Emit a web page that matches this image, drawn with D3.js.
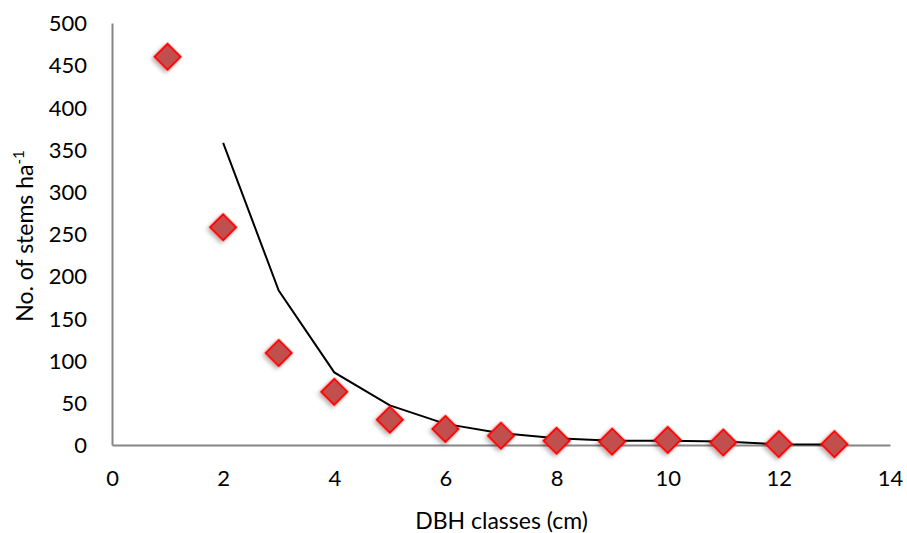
<!DOCTYPE html>
<html>
<head>
<meta charset="utf-8">
<script src="https://cdn.jsdelivr.net/npm/d3@7/dist/d3.min.js"></script>
<style>
  html, body { margin: 0; padding: 0; background: #fff; }
  svg { display: block; font-family: Lato, "Open Sans", sans-serif; }
</style>
</head>
<body>
<svg id="chart" width="907" height="533"></svg>
<script>
// DBH classes (cm)
const dbhClasses = [1, 2, 3, 4, 5, 6, 7, 8, 9, 10, 11, 12, 13];
// Observed stems per hectare
const observedStems = [460, 258, 109, 63, 30, 19, 11, 5, 4, 6, 3, 1, 1];
// Fitted curve (classes 2..13)
const fittedClasses = [2, 3, 4, 5, 6, 7, 8, 9, 10, 11, 12, 13];
const fittedStems = [358, 183, 86, 47, 25, 14, 8, 5, 5, 4, 1, 0.5];
// Axis ticks
const xTicks = [0, 2, 4, 6, 8, 10, 12, 14];
const yTicks = [0, 50, 100, 150, 200, 250, 300, 350, 400, 450, 500];

const svg = d3.select("#chart");
const margin = { left: 112, right: 17, top: 23, bottom: 88 };
const W = 907, H = 533;

const x = d3.scaleLinear().domain([0, 14]).range([margin.left, W - margin.right]);
const y = d3.scaleLinear().domain([0, 500]).range([H - margin.bottom, margin.top]);

const defs = svg.append("defs");
const f = defs.append("filter").attr("id", "shadow")
  .attr("x", "-50%").attr("y", "-50%").attr("width", "200%").attr("height", "200%");
f.append("feDropShadow").attr("dx", 0).attr("dy", 3).attr("stdDeviation", 2)
  .attr("flood-color", "#000").attr("flood-opacity", 0.3);

// Axes (no tick marks, grey domain lines)
const axisColor = "#868686";
const tickFont = 22;
const xAxis = svg.append("g").attr("transform", `translate(0,${y(0)})`)
  .call(d3.axisBottom(x).tickValues(xTicks).tickSize(0).tickPadding(25));
const yAxis = svg.append("g").attr("transform", `translate(${x(0)},0)`)
  .call(d3.axisLeft(y).tickValues(yTicks).tickSize(0).tickPadding(25));
[xAxis, yAxis].forEach(g => {
  g.select(".domain").attr("stroke", axisColor).attr("stroke-width", 2);
  g.selectAll("text").attr("font-size", tickFont).attr("fill", "#000")
    .attr("font-family", "Lato, 'Open Sans', sans-serif");
});
yAxis.selectAll("text").attr("dy", "0.35em");

// Fitted line
const line = d3.line().x((d, i) => x(fittedClasses[i])).y(d => y(d));
svg.append("path").datum(fittedStems)
  .attr("d", line).attr("fill", "none").attr("stroke", "#000").attr("stroke-width", 2);

// Observed points as diamonds
const diamond = d3.symbol().type(d3.symbolSquare).size(340);
svg.append("g").selectAll("path").data(observedStems).join("path")
  .attr("d", diamond)
  .attr("transform", (d, i) => `translate(${x(dbhClasses[i])},${y(d)}) rotate(45)`)
  .attr("fill", "#C0504D").attr("stroke", "#FF0000").attr("stroke-width", 2)
  .attr("filter", "url(#shadow)");

// Axis titles
svg.append("text").attr("x", (x(0) + x(14)) / 2 + 0.5).attr("y", 529)
  .attr("text-anchor", "middle").attr("font-size", 23).text("DBH classes (cm)");

const yt = svg.append("text")
  .attr("transform", `translate(33,236) rotate(-90)`)
  .attr("text-anchor", "middle").attr("font-size", 23);
yt.append("tspan").text("No. of stems ha");
yt.append("tspan").attr("font-size", 15).attr("dy", -9).text("-1");
</script>
</body>
</html>
